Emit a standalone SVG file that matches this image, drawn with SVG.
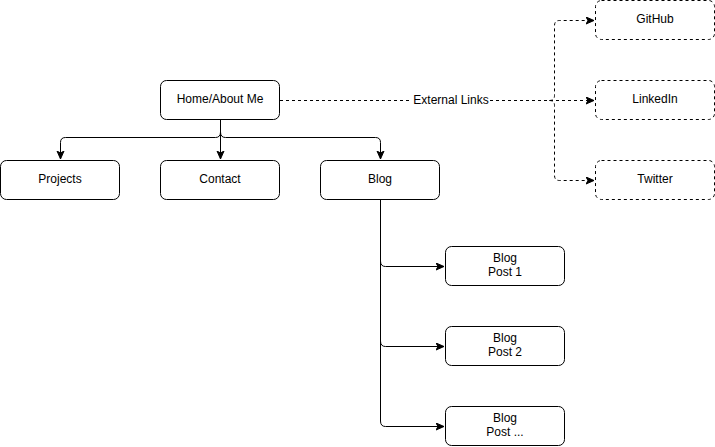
<svg xmlns="http://www.w3.org/2000/svg" width="715" height="447" viewBox="0 0 715 447">
<style>
.n{fill:#fff;stroke:#000;stroke-width:1}
.d{stroke-dasharray:3 3}
.t{font-family:"Liberation Sans",Arial,sans-serif;font-size:12px;fill:#000;text-anchor:middle;dominant-baseline:central}
.e{fill:none;stroke:#000;stroke-width:1}
</style>
<defs>
<marker id="a" markerUnits="userSpaceOnUse" markerWidth="10" markerHeight="10" refX="8" refY="4" orient="auto">
<path d="M0,0.5 L8,4 L0,7.5 L2,4 Z" fill="#000" stroke="#000" stroke-width="1"/>
</marker>
</defs>
<rect width="715" height="447" fill="#fff"/>
<g id="connectors">
<path class="e" d="M220.5,120 L220.5,159" marker-end="url(#a)"/>
<path class="e" d="M220.5,132 Q220.5,137.5 215.5,137.5 L65.5,137.5 Q60.5,137.5 60.5,142.5 L60.5,159" marker-end="url(#a)"/>
<path class="e" d="M220.5,132 Q220.5,137.5 225.5,137.5 L375.5,137.5 Q380.5,137.5 380.5,142.5 L380.5,159" marker-end="url(#a)"/>
<path class="e" d="M380.5,200 L380.5,421 Q380.5,426.5 385.5,426.5 L444,426.5" marker-end="url(#a)"/>
<path class="e" d="M380.5,261 Q380.5,266.5 385.5,266.5 L444,266.5" marker-end="url(#a)"/>
<path class="e" d="M380.5,341 Q380.5,346.5 385.5,346.5 L444,346.5" marker-end="url(#a)"/>
<path class="e d" d="M280,100.5 L594,100.5" marker-end="url(#a)"/>
<path class="e d" d="M549.5,100.5 Q554.5,100.5 554.5,95.5 L554.5,25.5 Q554.5,20.5 559.5,20.5 L594,20.5" marker-end="url(#a)"/>
<path class="e d" d="M549.5,100.5 Q554.5,100.5 554.5,105.5 L554.5,175.5 Q554.5,180.5 559.5,180.5 L594,180.5" marker-end="url(#a)"/>
<rect x="412" y="93" width="78" height="14" fill="#fff"/>
<text class="t" x="451" y="100">External Links</text>
</g>
<g id="home"><rect class="n" x="160.5" y="80.5" width="119" height="39" rx="6"/><text class="t" x="220" y="99">Home/About Me</text></g>
<g id="projects"><rect class="n" x="0.5" y="160.5" width="119" height="39" rx="6"/><text class="t" x="60" y="179">Projects</text></g>
<g id="contact"><rect class="n" x="160.5" y="160.5" width="119" height="39" rx="6"/><text class="t" x="220" y="179">Contact</text></g>
<g id="blog"><rect class="n" x="320.5" y="160.5" width="119" height="39" rx="6"/><text class="t" x="380" y="179">Blog</text></g>
<g id="post1"><rect class="n" x="445.5" y="246.5" width="119" height="39" rx="6"/><text class="t" x="505" y="258">Blog</text><text class="t" x="505" y="272">Post 1</text></g>
<g id="post2"><rect class="n" x="445.5" y="326.5" width="119" height="39" rx="6"/><text class="t" x="505" y="338">Blog</text><text class="t" x="505" y="352">Post 2</text></g>
<g id="post3"><rect class="n" x="445.5" y="406.5" width="119" height="39" rx="6"/><text class="t" x="505" y="418">Blog</text><text class="t" x="505" y="432">Post ...</text></g>
<g id="github"><rect class="n d" x="595.5" y="0.5" width="119" height="39" rx="6"/><text class="t" x="655" y="19">GitHub</text></g>
<g id="linkedin"><rect class="n d" x="595.5" y="80.5" width="119" height="39" rx="6"/><text class="t" x="655" y="99">LinkedIn</text></g>
<g id="twitter"><rect class="n d" x="595.5" y="160.5" width="119" height="39" rx="6"/><text class="t" x="655" y="179">Twitter</text></g>
</svg>
